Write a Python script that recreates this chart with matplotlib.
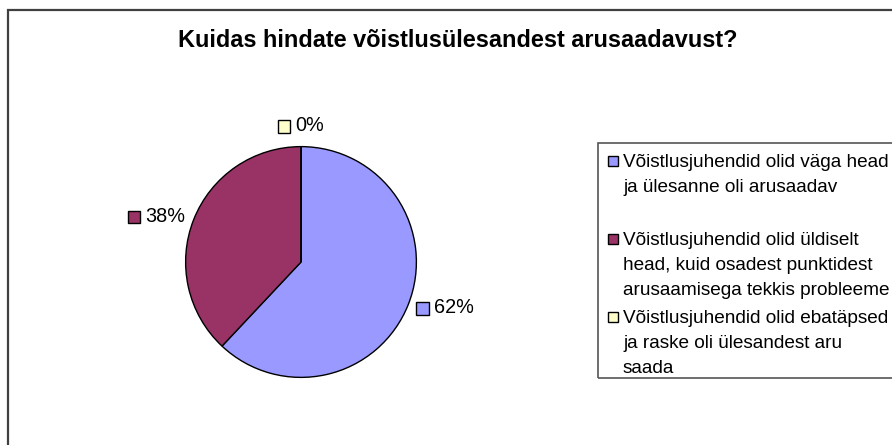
import matplotlib
matplotlib.use("Agg")
import matplotlib.pyplot as plt
import numpy as np
from matplotlib.patches import Rectangle
from matplotlib.offsetbox import AnnotationBbox, DrawingArea, TextArea, HPacker

plt.rcParams["font.family"] = ["Liberation Sans", "DejaVu Sans"]

# chart data
title = "Kuidas hindate võistlusülesandest arusaadavust?"
answers = [
    ["Võistlusjuhendid olid väga head", "ja ülesanne oli arusaadav"],
    ["Võistlusjuhendid olid üldiselt", "head, kuid osadest punktidest", "arusaamisega tekkis probleeme"],
    ["Võistlusjuhendid olid ebatäpsed", "ja raske oli ülesandest aru", "saada"],
]
shares = [62, 38, 0]
colors = ["#9999FF", "#993366", "#FFFFCC"]

W, H = 892, 445
fig = plt.figure(figsize=(W / 100, H / 100), dpi=100)


def px(x, y):
    # pixel position (from top-left) -> figure fraction
    return x / W, 1 - y / H


# outer chart frame (runs off the right and bottom edge like the original)
fig.patches.append(Rectangle(px(8, 460), (W + 20) / W, 450 / H, transform=fig.transFigure,
                             fill=False, edgecolor="#404040", linewidth=1.6))

fig.text(*px(458, 47), title, ha="center", va="baseline", fontsize=16.9, fontweight="bold")

# pie axes: center (301, 262) px, radius ~115 px
ax = fig.add_axes([151 / W, (H - 262 - 150) / H, 300 / W, 300 / H])
wedges, _ = ax.pie(shares, colors=colors, startangle=90, counterclock=False,
                   wedgeprops=dict(edgecolor="black", linewidth=1.0), radius=1.0)
ax.set_xlim(-1.3, 1.3)
ax.set_ylim(-1.3, 1.3)
ax.set_aspect("equal")
ax.axis("off")

for w, val, col in zip(wedges, shares, colors):
    mid = np.deg2rad((w.theta1 + w.theta2) / 2)
    cx, cy = np.cos(mid), np.sin(mid)
    da = DrawingArea(10, 10, 0, 0)
    da.add_artist(Rectangle((0, 0), 9, 9, facecolor=col, edgecolor="black", linewidth=1.0))
    ta = TextArea(f"{val}%", textprops=dict(fontsize=14.3))
    box = HPacker(children=[da, ta], align="center", pad=0, sep=3)
    if cy > 0.9:
        align, r = (0.5, 0), 1.1
    elif cx > 0:
        align, r = (0, 0.5), 1.075
    else:
        align, r = (1, 0.5), 1.075
    ab = AnnotationBbox(box, (r * cx, r * cy), frameon=False, box_alignment=align,
                        pad=0, annotation_clip=False)
    ax.add_artist(ab)

# legend box
fig.patches.append(Rectangle(px(598, 378), (W - 598 + 20) / W, (378 - 143) / H,
                             transform=fig.transFigure, fill=False, edgecolor="#555555",
                             linewidth=1.2))
for i, (lines, col) in enumerate(zip(answers, colors)):
    base = 167 + i * 78
    fig.patches.append(Rectangle(px(608, base - 1), 10 / W, 10 / H, transform=fig.transFigure,
                                 facecolor=col, edgecolor="black", linewidth=1.0))
    for j, line in enumerate(lines):
        fig.text(*px(623, base + j * 25), line, ha="left", va="baseline", fontsize=13.7)

fig.savefig("out.png", dpi=100)
